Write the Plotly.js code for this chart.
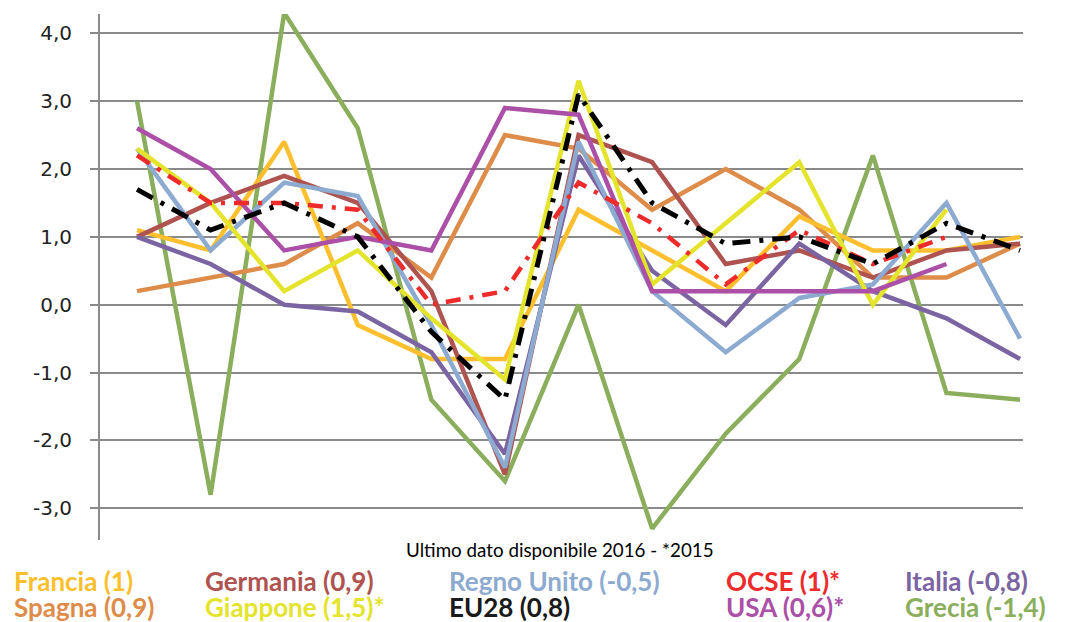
<!DOCTYPE html>
<html>
<head>
<meta charset="utf-8">
<script src="https://cdn.plot.ly/plotly-3.0.1.min.js"></script>
<style>html,body{margin:0;padding:0;background:#fff;}#chart{width:1080px;height:622px;}</style>
</head>
<body>
<div id="chart"></div>
<script>
const years = [2004,2005,2006,2007,2008,2009,2010,2011,2012,2013,2014,2015,2016];
const francia    = [1.1, 0.8, 2.4,-0.3,-0.8,-0.8, 1.4, 0.8, 0.2, 1.3, 0.8, 0.8, 1.0];
const spagna     = [0.2, 0.4, 0.6, 1.2, 0.4, 2.5, 2.3, 1.4, 2.0, 1.4, 0.4, 0.4, 0.9];
const germania   = [1.0, 1.5, 1.9, 1.5, 0.2,-2.5, 2.5, 2.1, 0.6, 0.8, 0.4, 0.8, 0.9];
const giappone   = [2.3, 1.5, 0.2, 0.8,-0.2,-1.1, 3.3, 0.3, 1.2, 2.1, 0.0, 1.4];
const regnoUnito = [2.3, 0.8, 1.8, 1.6,-0.3,-2.4, 2.4, 0.2,-0.7, 0.1, 0.3, 1.5,-0.5];
const eu28       = [1.7, 1.1, 1.5, 1.0,-0.4,-1.4, 3.1, 1.5, 0.9, 1.0, 0.6, 1.2, 0.8];
const ocse       = [2.2, 1.5, 1.5, 1.4, 0.0, 0.2, 1.8, 1.2, 0.3, 1.1, 0.6, 1.0];
const usa        = [2.6, 2.0, 0.8, 1.0, 0.8, 2.9, 2.8, 0.2, 0.2, 0.2, 0.2, 0.6];
const italia     = [1.0, 0.6, 0.0,-0.1,-0.7,-2.2, 2.2, 0.5,-0.3, 0.9, 0.2,-0.2,-0.8];
const grecia     = [3.0,-2.8, 4.3, 2.6,-1.4,-2.6, 0.0,-3.3,-1.9,-0.8, 2.2,-1.3,-1.4];

const tickVals  = [-3,-2,-1,0,1,2,3,4];
const tickTexts = ["-3,0","-2,0","-1,0","0,0","1,0","2,0","3,0","4,0"];

const note = "Ultimo dato disponibile 2016 - *2015";
const legendRow1 = ["Francia (1)","Germania (0,9)","Regno Unito (-0,5)","OCSE (1)*","Italia (-0,8)"];
const legendRow2 = ["Spagna (0,9)","Giappone (1,5)*","EU28 (0,8)","USA (0,6)*","Grecia (-1,4)"];

const C = {
  francia:'#FDBF2D', spagna:'#DE8C4A', germania:'#AE5350', giappone:'#E4E42C',
  regno:'#8DAAD0', eu28:'#000000', ocse:'#EE2B2B', usa:'#AB4FA7', italia:'#7B64A2', grecia:'#8AAE5C'
};
const legendColors1 = [C.francia, C.germania, C.regno, C.ocse, C.italia];
const legendColors2 = [C.spagna, C.giappone, '#1a1a1a', C.usa, C.grecia];
const colX = [12, 203, 447, 724, 903];

function line(y, color, width, dash){
  return {x: years.slice(0, y.length), y: y, type:'scatter', mode:'lines',
          line:{color:color, width:width, dash:dash||'solid'}, hoverinfo:'skip'};
}

const data = [
  line(grecia, C.grecia, 4.5),
  line(spagna, C.spagna, 4.5),
  line(francia, C.francia, 4.5),
  line(germania, C.germania, 4.5),
  line(italia, C.italia, 4.5),
  line(regnoUnito, C.regno, 4.5),
  line(giappone, C.giappone, 4.5),
  line(usa, C.usa, 4.5),
  line(ocse, C.ocse, 4.5, '15px,9px,4px,9px'),
  line(eu28, C.eu28, 5, '18px,9px,4px,9px')
];

const plotTop = 14, plotBottom = 540;
function py(p){ return (plotBottom - p) / (plotBottom - plotTop); }

const annotations = [{
  text: note, xref:'paper', yref:'paper', x:(560-100)/923, y:py(549),
  xanchor:'center', yanchor:'middle', showarrow:false,
  font:{family:'Lato, sans-serif', size:18.8, color:'#000'}
}];
legendRow1.forEach((t,i)=>annotations.push({
  text:'<b>'+t+'</b>', xref:'paper', yref:'paper', x:(colX[i]-100)/923, y:py(581),
  xanchor:'left', yanchor:'middle', showarrow:false,
  font:{family:'Lato, sans-serif', size:26, color:legendColors1[i]}
}));
legendRow2.forEach((t,i)=>annotations.push({
  text:'<b>'+t+'</b>', xref:'paper', yref:'paper', x:(colX[i]-100)/923, y:py(607),
  xanchor:'left', yanchor:'middle', showarrow:false,
  font:{family:'Lato, sans-serif', size:26, color:legendColors2[i]}
}));

const layout = {
  width:1080, height:622,
  margin:{l:100, r:57, t:14, b:82, pad:0},
  paper_bgcolor:'#fff', plot_bgcolor:'#fff',
  showlegend:false,
  xaxis:{range:[2003.497, 2016.04], showgrid:false, zeroline:false, showline:false,
         showticklabels:false, ticks:'', fixedrange:true},
  yaxis:{range:[-3.467, 4.284], tickvals:tickVals, ticktext:tickTexts,
         showgrid:true, gridcolor:'#8a8a8a', gridwidth:2, zeroline:false,
         showline:true, linecolor:'#8a8a8a', linewidth:2,
         ticks:'outside', ticklen:8, tickwidth:2, tickcolor:'#8a8a8a',
         ticklabelstandoff:14,
         tickfont:{family:'DejaVu Sans, sans-serif', size:20, color:'#222'}, fixedrange:true},
  annotations: annotations
};

Plotly.newPlot('chart', data, layout, {displayModeBar:false, staticPlot:true});
</script>
</body>
</html>
